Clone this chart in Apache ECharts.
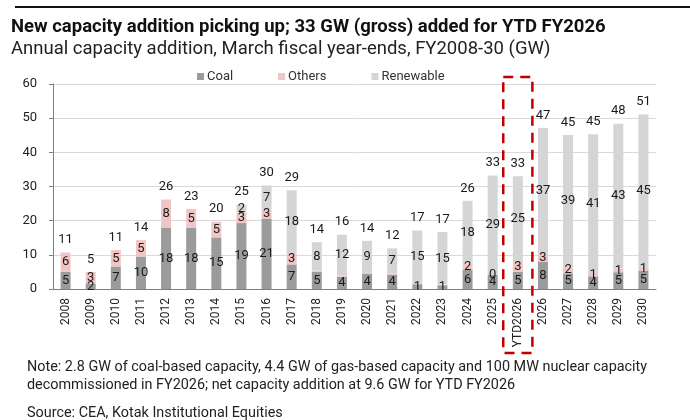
<!DOCTYPE html>
<html>
<head>
<meta charset="utf-8">
<script src="https://cdn.jsdelivr.net/npm/echarts@6/dist/echarts.min.js"></script>
<style>
  html, body { margin: 0; padding: 0; background: #fff; }
  #chart { width: 690px; height: 420px; }
</style>
</head>
<body>
<div id="chart"></div>
<script>
const years = ['2008', '2009', '2010', '2011', '2012', '2013', '2014', '2015', '2016', '2017', '2018', '2019',
    '2020', '2021', '2022', '2023', '2024', '2025', 'YTD2026', '2026', '2027', '2028', '2029', '2030'];
const coal = [5.0, 1.6, 6.6, 9.5, 18.0, 18.0, 15.1, 19.3, 20.6, 7.2, 5.0, 3.6,
    4.4, 4.2, 1.4, 1.1, 5.7, 4.2, 5.0, 7.9, 4.6, 3.7, 4.9, 5.4];
const others = [5.7, 3.4, 4.8, 4.8, 8.2, 5.4, 4.6, 3.1, 2.7, 3.3, 0.4, 0.3,
    0.3, 0.4, 0.4, 0.2, 1.7, 0, 3.2, 2.6, 1.8, 1.0, 1.0, 1.0];
const renewable = [0, 0, 0, 0, 0, 0, 0, 2.3, 7.0, 18.4, 8.3, 12.0,
    9.4, 7.3, 15.3, 15.4, 18.4, 29.0, 24.8, 36.6, 38.7, 40.6, 42.5, 44.7];
const yTicks = [0, 10, 20, 30, 40, 50, 60];

const totals = years.map((_, i) => +(coal[i] + others[i] + renewable[i]).toFixed(1));

const FONT = 'Roboto, "Noto Sans", sans-serif';
const labelStyle = { show: true, position: 'inside', color: '#1a1a1a', fontSize: 13, fontFamily: FONT };

const chart = echarts.init(document.getElementById('chart'));

const option = {
    animation: false,
    title: [
        { text: 'New capacity addition picking up; 33 GW (gross) added for YTD FY2026', left: 6, top: 12,
          textStyle: { fontFamily: FONT, fontSize: 18.5, fontWeight: 'bold', color: '#111', lineHeight: 20 } },
        { text: 'Annual capacity addition, March fiscal year-ends, FY2008-30 (GW)', left: 6, top: 34,
          textStyle: { fontFamily: FONT, fontSize: 18.5, fontWeight: 'normal', color: '#222', lineHeight: 20 } },
        { text: 'Note: 2.8 GW of coal-based capacity, 4.4 GW of gas-based capacity and 100 MW nuclear capacity\ndecommissioned in FY2026; net capacity addition at 9.6 GW for YTD FY2026',
          left: 22, top: 353,
          textStyle: { fontFamily: FONT, fontSize: 14.4, fontWeight: 'normal', color: '#222', lineHeight: 18 } },
        { text: 'Source: CEA, Kotak Institutional Equities', left: 22, top: 399,
          textStyle: { fontFamily: FONT, fontSize: 14.4, fontWeight: 'normal', color: '#222', lineHeight: 18 } }
    ],
    legend: {
        data: ['Coal', 'Others', 'Renewable'],
        top: 65, left: 192,
        itemWidth: 7, itemHeight: 7, itemGap: 45,
        icon: 'rect',
        textStyle: { fontFamily: FONT, fontSize: 13, color: '#333', padding: [0, 0, 0, -2] }
    },
    grid: { left: 53, right: 34, top: 84, bottom: 131 },
    xAxis: {
        type: 'category',
        data: years,
        axisLine: { lineStyle: { color: '#7f7f7f', width: 1 } },
        axisTick: { show: false },
        axisLabel: { rotate: 90, fontFamily: FONT, fontSize: 12, color: '#222', margin: 9, interval: 0 }
    },
    yAxis: {
        type: 'value',
        min: yTicks[0], max: yTicks[yTicks.length - 1], interval: 10,
        axisLine: { show: true, lineStyle: { color: '#7f7f7f' } },
        axisTick: { show: true, length: 4, lineStyle: { color: '#7f7f7f' } },
        axisLabel: { fontFamily: FONT, fontSize: 13, color: '#222', margin: 16 },
        splitLine: { lineStyle: { color: '#d9d9d9' } }
    },
    series: [
        { name: 'Coal', type: 'bar', stack: 'cap', barWidth: 10, data: coal,
          itemStyle: { color: '#9b9b9b' },
          label: Object.assign({}, labelStyle, { formatter: p => Math.round(p.value) }) },
        { name: 'Others', type: 'bar', stack: 'cap', barWidth: 10, data: others,
          itemStyle: { color: '#f2c5c5' },
          label: Object.assign({}, labelStyle, {
              formatter: p => (p.value >= 0.5 || p.value === 0) ? Math.round(p.value) : '' }) },
        { name: 'Renewable', type: 'bar', stack: 'cap', barWidth: 10, data: renewable,
          itemStyle: { color: '#d5d5d5' },
          label: Object.assign({}, labelStyle, { formatter: p => p.value >= 0.5 ? Math.round(p.value) : '' }) },
        { name: 'Total', type: 'bar', barWidth: 10, barGap: '-100%', data: totals, z: 1,
          itemStyle: { color: 'rgba(0,0,0,0)' },
          label: Object.assign({}, labelStyle, { position: 'top', distance: 6,
              formatter: p => Math.round(p.value) }) }
    ]
};

chart.setOption(option);

// dashed box round the YTD bar, placed from the axis scales
function drawBox() {
    const cx = chart.convertToPixel({ xAxisIndex: 0 }, 'YTD2026');
    const step = chart.convertToPixel({ xAxisIndex: 0 }, '2026') - cx;
    const yTop = chart.convertToPixel({ yAxisIndex: 0 }, yTicks[yTicks.length - 1]);
    const yBase = chart.convertToPixel({ yAxisIndex: 0 }, 0);
    const half = step * 0.58;
    chart.setOption({
        graphic: [
            { type: 'line', shape: { x1: 15, y1: 7, x2: 690, y2: 7 },
              style: { stroke: '#111', lineWidth: 2 } },
            { type: 'rect', shape: { x: cx - half, y: yTop - 7, width: half * 2, height: yBase - yTop + 71 },
              style: { fill: 'none', stroke: '#c00000', lineWidth: 2.5, lineDash: [10, 7] }, z: 100 }
        ]
    });
}
drawBox();
</script>
</body>
</html>
